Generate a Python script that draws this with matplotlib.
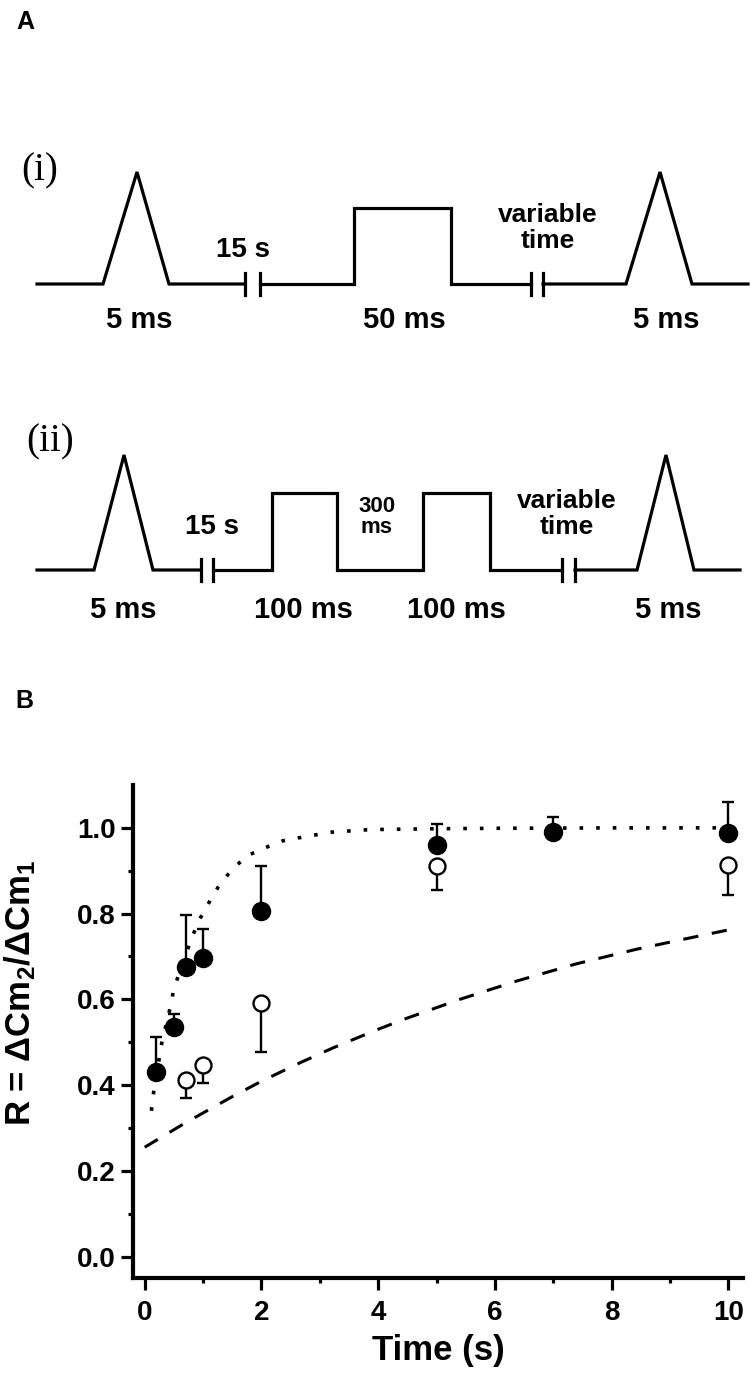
import matplotlib
matplotlib.use("Agg")
import numpy as np
import matplotlib.pyplot as plt
from matplotlib.ticker import FormatStrFormatter, MultipleLocator

plt.rcParams['font.family'] = ['Liberation Sans', 'DejaVu Sans']
plt.rcParams['font.weight'] = 'bold'
plt.rcParams['mathtext.fontset'] = 'custom'
plt.rcParams['mathtext.rm'] = 'Liberation Sans:bold'
plt.rcParams['mathtext.it'] = 'Liberation Sans:bold'
plt.rcParams['mathtext.bf'] = 'Liberation Sans:bold'

### panel A: stimulus protocols (sweep position, level: 0 = rest, 1 = ramp peak)
sweep_i = [
    ([37, 103, 137, 169, 245], [0, 0, 1, 0, 0]),
    ([260, 354, 354, 451, 451, 531], [0, 0, 0.68, 0.68, 0, 0]),
    ([543, 626, 660, 692, 748], [0, 0, 1, 0, 0]),
]
gaps_i = [245, 260, 531, 543]
labels_i = ['5 ms', '50 ms', '5 ms']
labels_i_x = [139, 404, 666]

sweep_ii = [
    ([37, 94, 124, 153, 201], [0, 0, 1, 0, 0]),
    ([213, 272, 272, 337, 337, 423, 423, 490, 490, 562],
     [0, 0, 0.67, 0.67, 0, 0, 0.67, 0.67, 0, 0]),
    ([575, 637, 666, 694, 740], [0, 0, 1, 0, 0]),
]
gaps_ii = [201, 213, 562, 575]
labels_ii = ['5 ms', '100 ms', '100 ms', '5 ms']
labels_ii_x = [123, 303, 456, 668]

### panel B: recovery ratio vs time
t_filled = [0.2, 0.5, 0.7, 1.0, 2.0, 5.0, 7.0, 10.0]
r_filled = [0.430, 0.535, 0.675, 0.697, 0.807, 0.961, 0.991, 0.988]
err_filled = [0.082, 0.031, 0.122, 0.066, 0.104, 0.047, 0.034, 0.072]

t_open = [0.7, 1.0, 2.0, 5.0, 10.0]
r_open = [0.413, 0.448, 0.592, 0.912, 0.914]
err_open = [0.043, 0.042, 0.115, 0.057, 0.070]

fit_fast_t = [0.115, 0.154, 0.30, 0.44, 0.50, 0.80, 0.93, 1.09, 1.26, 1.50,
              1.77, 2.09, 2.37, 2.69, 3.2, 3.86, 5.0, 6.0, 8.0, 10.0]
fit_fast_r = [0.340, 0.384, 0.504, 0.582, 0.625, 0.741, 0.784, 0.823, 0.862, 0.904,
              0.936, 0.955, 0.970, 0.978, 0.990, 0.996, 0.998, 0.999, 1.0, 1.0]

fit_slow_t = [0.0, 0.6, 1.0, 1.5, 2.0, 2.66, 3.23, 3.96, 4.43, 5.4,
              6.38, 7.4, 8.43, 9.4, 10.0]
fit_slow_r = [0.255, 0.304, 0.335, 0.373, 0.409, 0.452, 0.487, 0.528, 0.553, 0.600,
              0.643, 0.683, 0.717, 0.745, 0.762]

W, H = 750, 1375
fig = plt.figure(figsize=(W / 100, H / 100), dpi=100)


def px_axes(top, bottom):
    return fig.add_axes([0, 1 - bottom / H, 1, (bottom - top) / H])


def draw_sweep(ax, segments, gaps):
    for xs, ys in segments:
        ax.plot(xs, ys, color='black', lw=2.3, solid_joinstyle='miter')
    for g in gaps:
        ax.plot([g, g], [-0.095, 0.095], color='black', lw=2.3)


# trace (i): rest level at y=284 px, peak at 172 px
ax1 = px_axes(140, 345)
ax1.set_xlim(0, W)
ax1.set_ylim(-(345 - 284) / 112, (284 - 140) / 112)
ax1.axis('off')
draw_sweep(ax1, sweep_i, gaps_i)
for s, x in zip(labels_i, labels_i_x):
    ax1.text(x, -0.32, s, ha='center', va='center', fontsize=21, fontweight='bold')
ax1.text(243, 0.30, '15 s', ha='center', va='center', fontsize=20, fontweight='bold')
ax1.text(548, 0.50, 'variable\ntime', ha='center', va='center', fontsize=19,
         fontweight='bold', linespacing=1.1)
ax1.text(40, 1.01, '(i)', ha='center', va='center', fontsize=28,
         family='Liberation Serif', fontweight='normal')

# trace (ii): rest level at y=570 px, peak at 455 px
ax2 = px_axes(425, 640)
ax2.set_xlim(0, W)
ax2.set_ylim(-(640 - 570) / 115, (570 - 425) / 115)
ax2.axis('off')
draw_sweep(ax2, sweep_ii, gaps_ii)
for s, x in zip(labels_ii, labels_ii_x):
    ax2.text(x, -0.35, s, ha='center', va='center', fontsize=21, fontweight='bold')
ax2.text(212, 0.37, '15 s', ha='center', va='center', fontsize=20, fontweight='bold')
ax2.text(377, 0.46, '300\nms', ha='center', va='center', fontsize=16,
         fontweight='bold', linespacing=0.95)
ax2.text(567, 0.49, 'variable\ntime', ha='center', va='center', fontsize=19,
         fontweight='bold', linespacing=1.1)
ax2.text(50, 1.11, '(ii)', ha='center', va='center', fontsize=28,
         family='Liberation Serif', fontweight='normal')

fig.text(25 / W, 1 - 22 / H, 'A', ha='center', va='center', fontsize=18, fontweight='bold')
fig.text(24 / W, 1 - 701 / H, 'B', ha='center', va='center', fontsize=18, fontweight='bold')

# panel B
axb = fig.add_axes([133 / W, 1 - 1278 / H, (743 - 133) / W, (1278 - 785) / H])
axb.plot(fit_slow_t, fit_slow_r, color='black', lw=2.2, dashes=(5, 4.5), zorder=1)
axb.plot(fit_fast_t, fit_fast_r, color='black', lw=2.6, dashes=(1, 3.6), zorder=1)

n_f = len(t_filled)
axb.errorbar(t_filled, r_filled, yerr=[np.zeros(n_f), err_filled], fmt='o',
             color='black', ms=13, capsize=4, elinewidth=1.7, capthick=1.7, zorder=3)
n_o = len(t_open)
axb.errorbar(t_open, r_open, yerr=[err_open, np.zeros(n_o)], fmt='o',
             color='black', mfc='white', mec='black', mew=1.7, ms=11.5,
             capsize=4, elinewidth=1.7, capthick=1.7, zorder=3)

axb.set_xlim(-0.2, 10.25)
axb.set_ylim(-0.05, 1.1)
axb.spines['top'].set_visible(False)
axb.spines['right'].set_visible(False)
axb.spines['left'].set_linewidth(3)
axb.spines['bottom'].set_linewidth(3)
axb.xaxis.set_major_locator(MultipleLocator(2))
axb.xaxis.set_minor_locator(MultipleLocator(1))
axb.set_yticks([0.0, 0.2, 0.4, 0.6, 0.8, 1.0])
axb.set_yticks([0.1, 0.3, 0.5, 0.7, 0.9], minor=True)
axb.yaxis.set_major_formatter(FormatStrFormatter('%.1f'))
axb.tick_params(which='major', length=8.5, width=2.3, labelsize=20, direction='out')
axb.tick_params(which='minor', length=3.5, width=2.3, direction='out')
axb.tick_params(axis='y', which='major', pad=4)
axb.tick_params(axis='x', which='major', pad=7)
for lab in axb.get_xticklabels() + axb.get_yticklabels():
    lab.set_fontweight('bold')

axb.set_xlabel('Time (s)', fontsize=25, fontweight='bold', labelpad=6)
axb.set_ylabel(r'R = ΔCm$_2$/ΔCm$_1$', fontsize=25, fontweight='bold')
axb.yaxis.set_label_coords(-0.156, 0.578)

fig.savefig('out.png', dpi=100, facecolor='white')
